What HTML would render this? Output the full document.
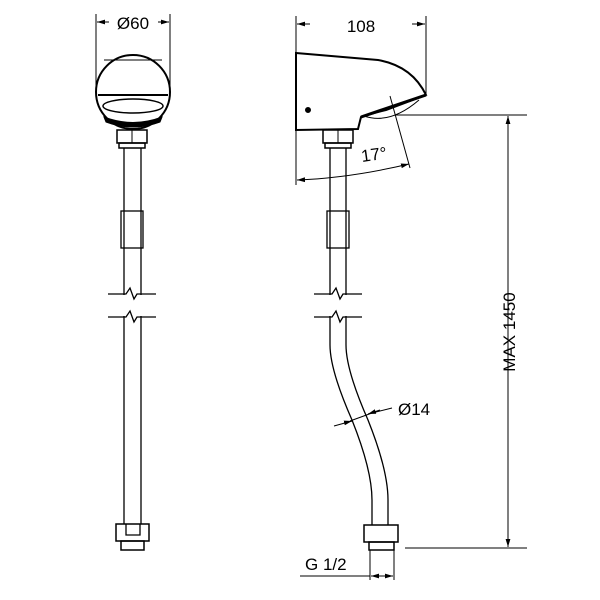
<!DOCTYPE html>
<html><head><style>body{margin:0;background:#fff}svg{display:block}</style></head><body>
<svg width="600" height="600" viewBox="0 0 600 600" xmlns="http://www.w3.org/2000/svg" font-family="Liberation Sans, sans-serif" fill="none" stroke="#000">
<defs><marker id="a" viewBox="0 0 10 10" refX="10" refY="5" markerWidth="8" markerHeight="8" orient="auto-start-reverse"><path d="M0,2L10,5L0,8z" fill="#000" stroke="none"/></marker></defs>
<g stroke-width="1">
<line x1="96" y1="14" x2="96" y2="88"/><line x1="170" y1="14" x2="170" y2="88"/>
<line x1="109" y1="22" x2="97" y2="22" marker-end="url(#a)"/>
<line x1="158" y1="22" x2="169" y2="22" marker-end="url(#a)"/>
</g>
<text x="133" y="29" font-size="17" text-anchor="middle" fill="#000" stroke="none">Ø60</text>
<circle cx="133" cy="92" r="37" stroke-width="2"/>
<line x1="98" y1="95" x2="168" y2="95" stroke-width="2"/>
<line x1="104" y1="60" x2="162" y2="60" stroke-width="1"/>
<ellipse cx="133" cy="106" rx="30" ry="7" stroke-width="1.5"/>
<path d="M104,117 Q133,128 162,117 L160,122 Q133,132 106,122Z" fill="#000" stroke-width="1"/>
<rect x="117" y="130" width="30" height="13" stroke-width="1.5"/><line x1="132" y1="130" x2="132" y2="143"/>
<rect x="119" y="143" width="26" height="5" stroke-width="1.5"/>
<g stroke-width="1.3">
<line x1="124" y1="148" x2="124" y2="295"/><line x1="141" y1="148" x2="141" y2="295"/>
<rect x="121" y="211" width="22" height="37"/>
<line x1="124" y1="316" x2="124" y2="524"/><line x1="141" y1="316" x2="141" y2="524"/>
<path d="M108,294 H126 L130,288 L134,299 L137,294 H156"/>
<path d="M108,317 H126 L130,311 L134,322 L137,317 H156"/>
<rect x="116" y="524" width="33" height="17" stroke-width="1.5"/>
<path d="M126,524 V535 H140 V524"/>
<rect x="121" y="541" width="23" height="9" stroke-width="1.5"/>
</g>
<g stroke-width="1">
<line x1="296" y1="16" x2="296" y2="185"/><line x1="426" y1="16" x2="426" y2="95"/>
<line x1="310" y1="24" x2="297" y2="24" marker-end="url(#a)"/>
<line x1="412" y1="24" x2="425" y2="24" marker-end="url(#a)"/>
</g>
<text x="361" y="32" font-size="17" text-anchor="middle" fill="#000" stroke="none">108</text>
<path d="M296,53 L378,60 Q412,66 426,95 L386,110 Q370,114 361,117 L358,129 L296,130 Z" stroke-width="2"/>
<path d="M364,116 Q390,125 419,100" stroke-width="1"/>
<path d="M361,117 L426,95" stroke-width="3"/>
<circle cx="308" cy="110" r="2.5" fill="#000"/>
<rect x="323" y="130" width="30" height="13" stroke-width="1.5"/><line x1="338" y1="130" x2="338" y2="143"/>
<rect x="325" y="143" width="26" height="5" stroke-width="1.5"/>
<g stroke-width="1">
<line x1="390" y1="96" x2="410" y2="168"/>
<path d="M297,180 Q350,178 409,164" marker-start="url(#a)" marker-end="url(#a)"/>
<line x1="395" y1="115" x2="527" y2="115"/>
<line x1="405" y1="548" x2="527" y2="548"/>
<line x1="508" y1="116" x2="508" y2="547" marker-start="url(#a)" marker-end="url(#a)"/>
</g>
<text x="362" y="162" font-size="17" fill="#000" stroke="none" transform="rotate(-8 362 162)">17°</text>
<text x="0" y="0" font-size="17" fill="#000" stroke="none" text-anchor="middle" transform="translate(515 332) rotate(-90)">MAX 1450</text>
<g stroke-width="1.3">
<line x1="330" y1="148" x2="330" y2="295"/><line x1="346" y1="148" x2="346" y2="295"/>
<rect x="327" y="211" width="22" height="37"/>
<path d="M314,294 H332 L336,288 L340,299 L343,294 H362"/>
<path d="M314,317 H332 L336,311 L340,322 L343,317 H362"/>
<path d="M330,316 V345 Q330,370 352,420 Q372,470 372,500 V525"/>
<path d="M346,316 V345 Q346,370 368,420 Q388,470 388,500 V525"/>
<rect x="364" y="525" width="34" height="17" stroke-width="1.5"/>
<rect x="369" y="542" width="25" height="8" stroke-width="1.5"/>
</g>
<g stroke-width="1">
<line x1="334" y1="426" x2="352" y2="421"/>
<line x1="344" y1="423" x2="352" y2="421" marker-end="url(#a)"/>
<line x1="380" y1="410" x2="368" y2="414" marker-end="url(#a)"/>
<path d="M350,421 L372,413 L392,408"/>
<line x1="370" y1="550" x2="370" y2="580"/><line x1="394" y1="550" x2="394" y2="580"/>
<path d="M300,576 H370"/>
<line x1="371" y1="576" x2="393" y2="576" marker-start="url(#a)" marker-end="url(#a)"/>
</g>
<text x="398" y="415" font-size="17" fill="#000" stroke="none">Ø14</text>
<text x="305" y="570" font-size="17" fill="#000" stroke="none">G 1/2</text>
</svg>
</body></html>
